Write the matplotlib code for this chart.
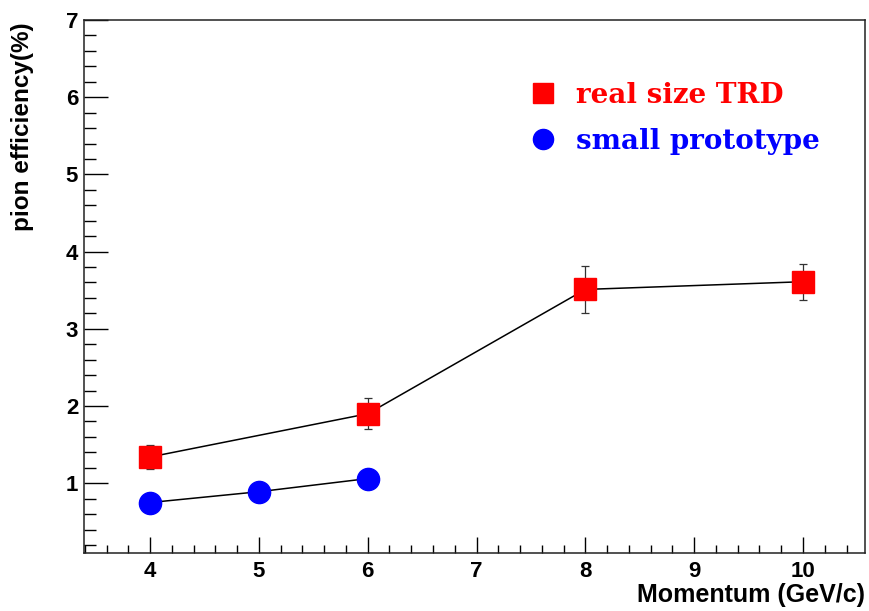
import matplotlib.pyplot as plt
from matplotlib.lines import Line2D
from matplotlib.ticker import MultipleLocator

# pion efficiency vs momentum, two detector setups
p_trd = [4, 6, 8, 10]
eff_trd = [1.34, 1.90, 3.51, 3.61]
err_trd = [0.155, 0.20, 0.30, 0.235]

p_proto = [4, 5, 6]
eff_proto = [0.75, 0.89, 1.06]

labels = ['real size TRD', 'small prototype']

fig = plt.figure(figsize=(8.69, 6.11), dpi=100)
ax = fig.add_axes([0.0963, 0.0954, 0.8991, 0.8719])

ax.errorbar(p_trd, eff_trd, yerr=err_trd, color='black', lw=1.1,
            ecolor='#333333', elinewidth=0.9, capsize=3, capthick=0.9,
            marker='s', ms=16.5, mfc='red', mec='red', zorder=3)
ax.plot(p_proto, eff_proto, color='black', lw=1.1,
        marker='o', ms=16, mfc='blue', mec='blue', zorder=3)

ax.set_xlim(3.39, 10.57)
ax.set_ylim(0.1, 7)

ax.xaxis.set_major_locator(MultipleLocator(1))
ax.xaxis.set_minor_locator(MultipleLocator(0.2))
ax.yaxis.set_major_locator(MultipleLocator(1))
ax.yaxis.set_minor_locator(MultipleLocator(0.2))

ax.tick_params(axis='x', which='major', direction='in', length=11.5, width=1.0, pad=6)
ax.tick_params(axis='x', which='minor', direction='in', length=5.8, width=1.0)
ax.tick_params(axis='y', which='major', direction='in', length=17.3, width=1.0, pad=4)
ax.tick_params(axis='y', which='minor', direction='in', length=8.6, width=1.0)
ax.tick_params(labelsize=16)
for lab in ax.get_xticklabels() + ax.get_yticklabels():
    lab.set_fontfamily('Liberation Sans')
    lab.set_fontweight('bold')

for sp in ax.spines.values():
    sp.set_linewidth(1.1)
    sp.set_color('#222222')

ax.set_xlabel('Momentum (GeV/c)', fontsize=18, fontweight='bold',
              family='Liberation Sans', loc='right')
ax.xaxis.set_label_coords(1.0, -0.057)
ax.set_ylabel('pion efficiency(%)', fontsize=17.5, fontweight='bold',
              family='Liberation Sans', loc='top')
ax.yaxis.set_label_coords(-0.063, 0.996)

handles = [Line2D([], [], ls='none', marker='s', ms=14.5, mfc='red', mec='red'),
           Line2D([], [], ls='none', marker='o', ms=14.5, mfc='blue', mec='blue')]
leg = ax.legend(handles, labels, loc='upper left', bbox_to_anchor=(0.5345, 0.931),
                frameon=False, handlelength=1.2, handletextpad=0.6, labelspacing=0.7,
                prop={'family': 'DejaVu Serif', 'weight': 'bold', 'size': 20},
                labelcolor=['red', 'blue'])

fig.savefig('out.png', dpi=100)
